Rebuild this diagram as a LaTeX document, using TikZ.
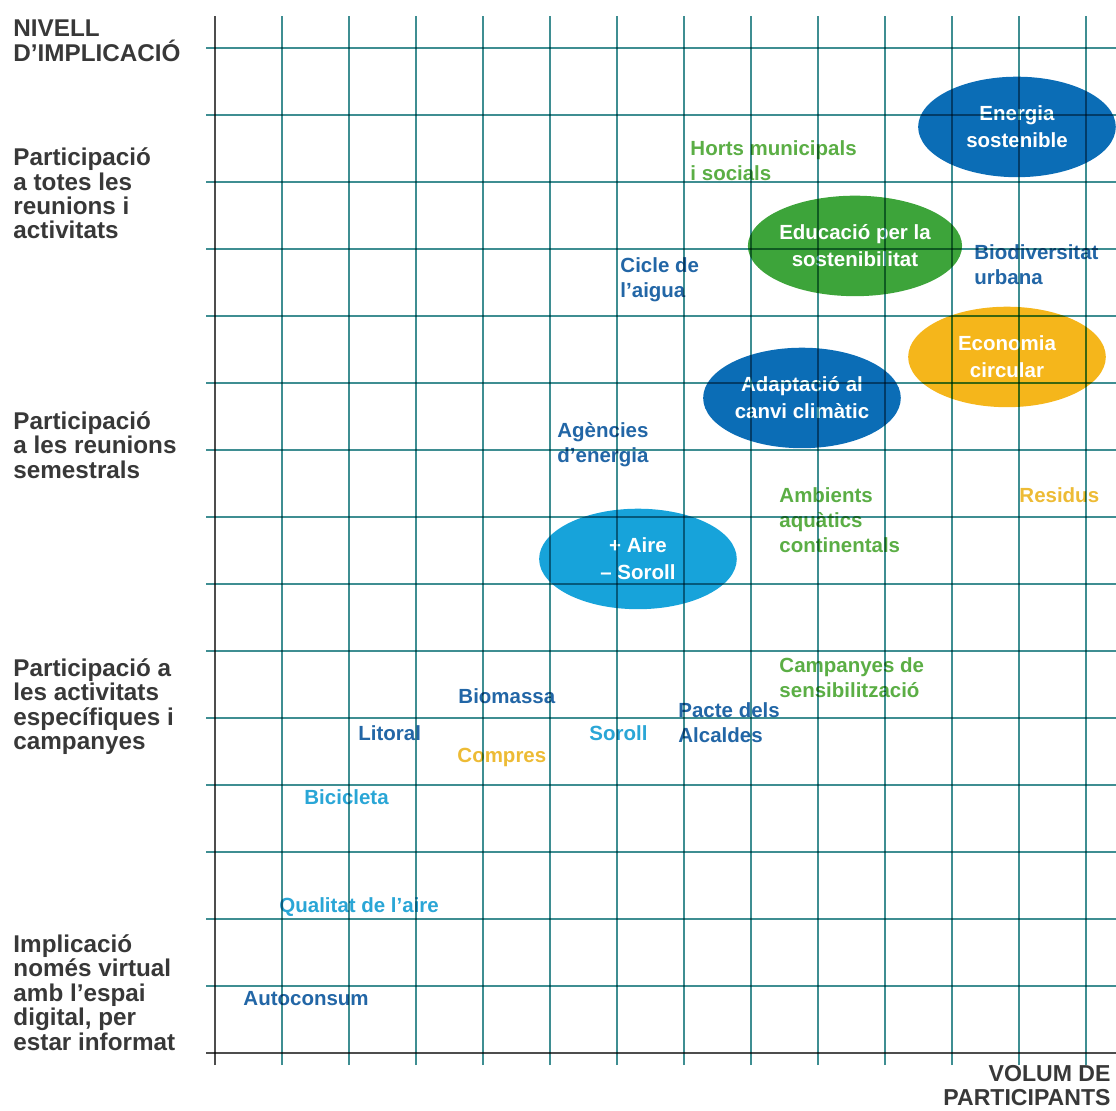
\documentclass[tikz,border=0pt]{standalone}
\usepackage{fontspec}
\setmainfont{Liberation Sans}
\usetikzlibrary{shapes.geometric}

\definecolor{gridteal}{HTML}{3F8E92}
\definecolor{axisgray}{HTML}{4D4D4D}
\definecolor{levelgray}{HTML}{383838}
\definecolor{fillblue}{HTML}{0B6DB6}
\definecolor{fillcyan}{HTML}{17A3DA}
\definecolor{fillgreen}{HTML}{3DA43A}
\definecolor{fillyellow}{HTML}{F5B61B}
\definecolor{txtblue}{HTML}{2266A6}
\definecolor{txtcyan}{HTML}{2AA6D6}
\definecolor{txtgreen}{HTML}{5BAE45}
\definecolor{txtyellow}{HTML}{EDBB35}

\begin{document}
\begin{tikzpicture}
		\tikzset{axis/.style = {draw=axisgray, line width=1pt},
			gridline/.style = {draw=gridteal, line width=0.8pt},
			level/.style = {anchor=west, inner sep=0pt, align=left, text=levelgray, font=\fontsize{10.3}{10.4}\selectfont\bfseries},
			theme/.style = {anchor=west, inner sep=0pt, align=left, font=\fontsize{8.7}{10.6}\selectfont\bfseries},
			bubble/.style = {shape=ellipse, inner sep=0pt, minimum width=2.95cm, minimum height=1.5cm, text=white, align=center, font=\fontsize{8.7}{11.4}\selectfont\bfseries}}

		\useasboundingbox (-3.209,-0.866) rectangle (13.448,15.716);

		\node[bubble, fill=fillblue] (energia) at (11.970,13.821) {Energia\\sostenible};
		\node[bubble, fill=fillgreen] (educacio) at (9.552,12.045) {Educació per la\\sostenibilitat};
		\node[bubble, fill=fillyellow] (economia) at (11.821,10.388) {Economia\\circular};
		\node[bubble, fill=fillblue] (adaptacio) at (8.761,9.776) {Adaptació al\\canvi climàtic};
		\node[bubble, fill=fillcyan] (aire) at (6.313,7.373) {+ Aire\\– Soroll};

		\node[level] (L_0) at (-3.015,15.104) {NIVELL\\D’IMPLICACIÓ};
		\node[level] (L_1) at (-3.015,12.828) {Participació\\a totes les\\reunions i\\activitats};
		\node[level] (L_2) at (-3.015,9.075) {Participació\\a les reunions\\semestrals};
		\node[level] (L_3) at (-3.015,5.172) {Participació a\\les activitats\\específiques i\\campanyes};
		\node[level] (L_4) at (-3.015,0.903) {Implicació\\només virtual\\amb l’espai\\digital, per\\estar informat};
		\node[level, anchor=east, align=right, font=\fontsize{9.8}{10.2}\selectfont\bfseries] (volum) at (13.373,-0.49) {VOLUM DE\\PARTICIPANTS};

		\node[theme, text=txtgreen] (horts) at (7.090,13.321) {Horts municipals\\i socials};
		\node[theme, text=txtblue] (biodiv) at (11.328,11.761) {Biodiversitat\\urbana};
		\node[theme, text=txtblue] (cicle) at (6.045,11.537) {Cicle de\\l’aigua};
		\node[theme, text=txtblue] (agencies) at (5.104,9.075) {Agències\\d’energia};
		\node[theme, text=txtgreen] (ambients) at (8.418,7.948) {Ambients\\aquàtics\\continentals};
		\node[theme, text=txtyellow] (residus) at (12.0,8.328) {Residus};
		\node[theme, text=txtgreen] (campanyes) at (8.418,5.604) {Campanyes de\\sensibilització};
		\node[theme, text=txtblue] (biomassa) at (3.627,5.328) {Biomassa};
		\node[theme, text=txtblue] (litoral) at (2.134,4.776) {Litoral};
		\node[theme, text=txtyellow] (compres) at (3.612,4.403) {Compres};
		\node[theme, text=txtcyan] (soroll) at (5.582,4.776) {Soroll};
		\node[theme, text=txtblue] (pacte) at (6.910,4.925) {Pacte dels\\Alcaldes};
		\node[theme, text=txtcyan] (bicicleta) at (1.328,3.821) {Bicicleta};
		\node[theme, text=txtcyan] (qualitat) at (0.955,2.179) {Qualitat de l’aire};
		\node[theme, text=txtblue] (autoconsum) at (0.418,0.806) {Autoconsum};

		\begin{scope}[blend mode=multiply]
			\foreach \i in {1,...,13}
				\draw[gridline] (\i,-0.18) -- (\i,15.478);
			\foreach \j in {1,...,15}
				\draw[gridline] (-0.134,\j) -- (13.448,\j);
			\draw[axis] (0,-0.18) -- (0,15.478);
			\draw[axis] (-0.134,0) -- (13.448,0);
		\end{scope}

	\end{tikzpicture}
\end{document}
